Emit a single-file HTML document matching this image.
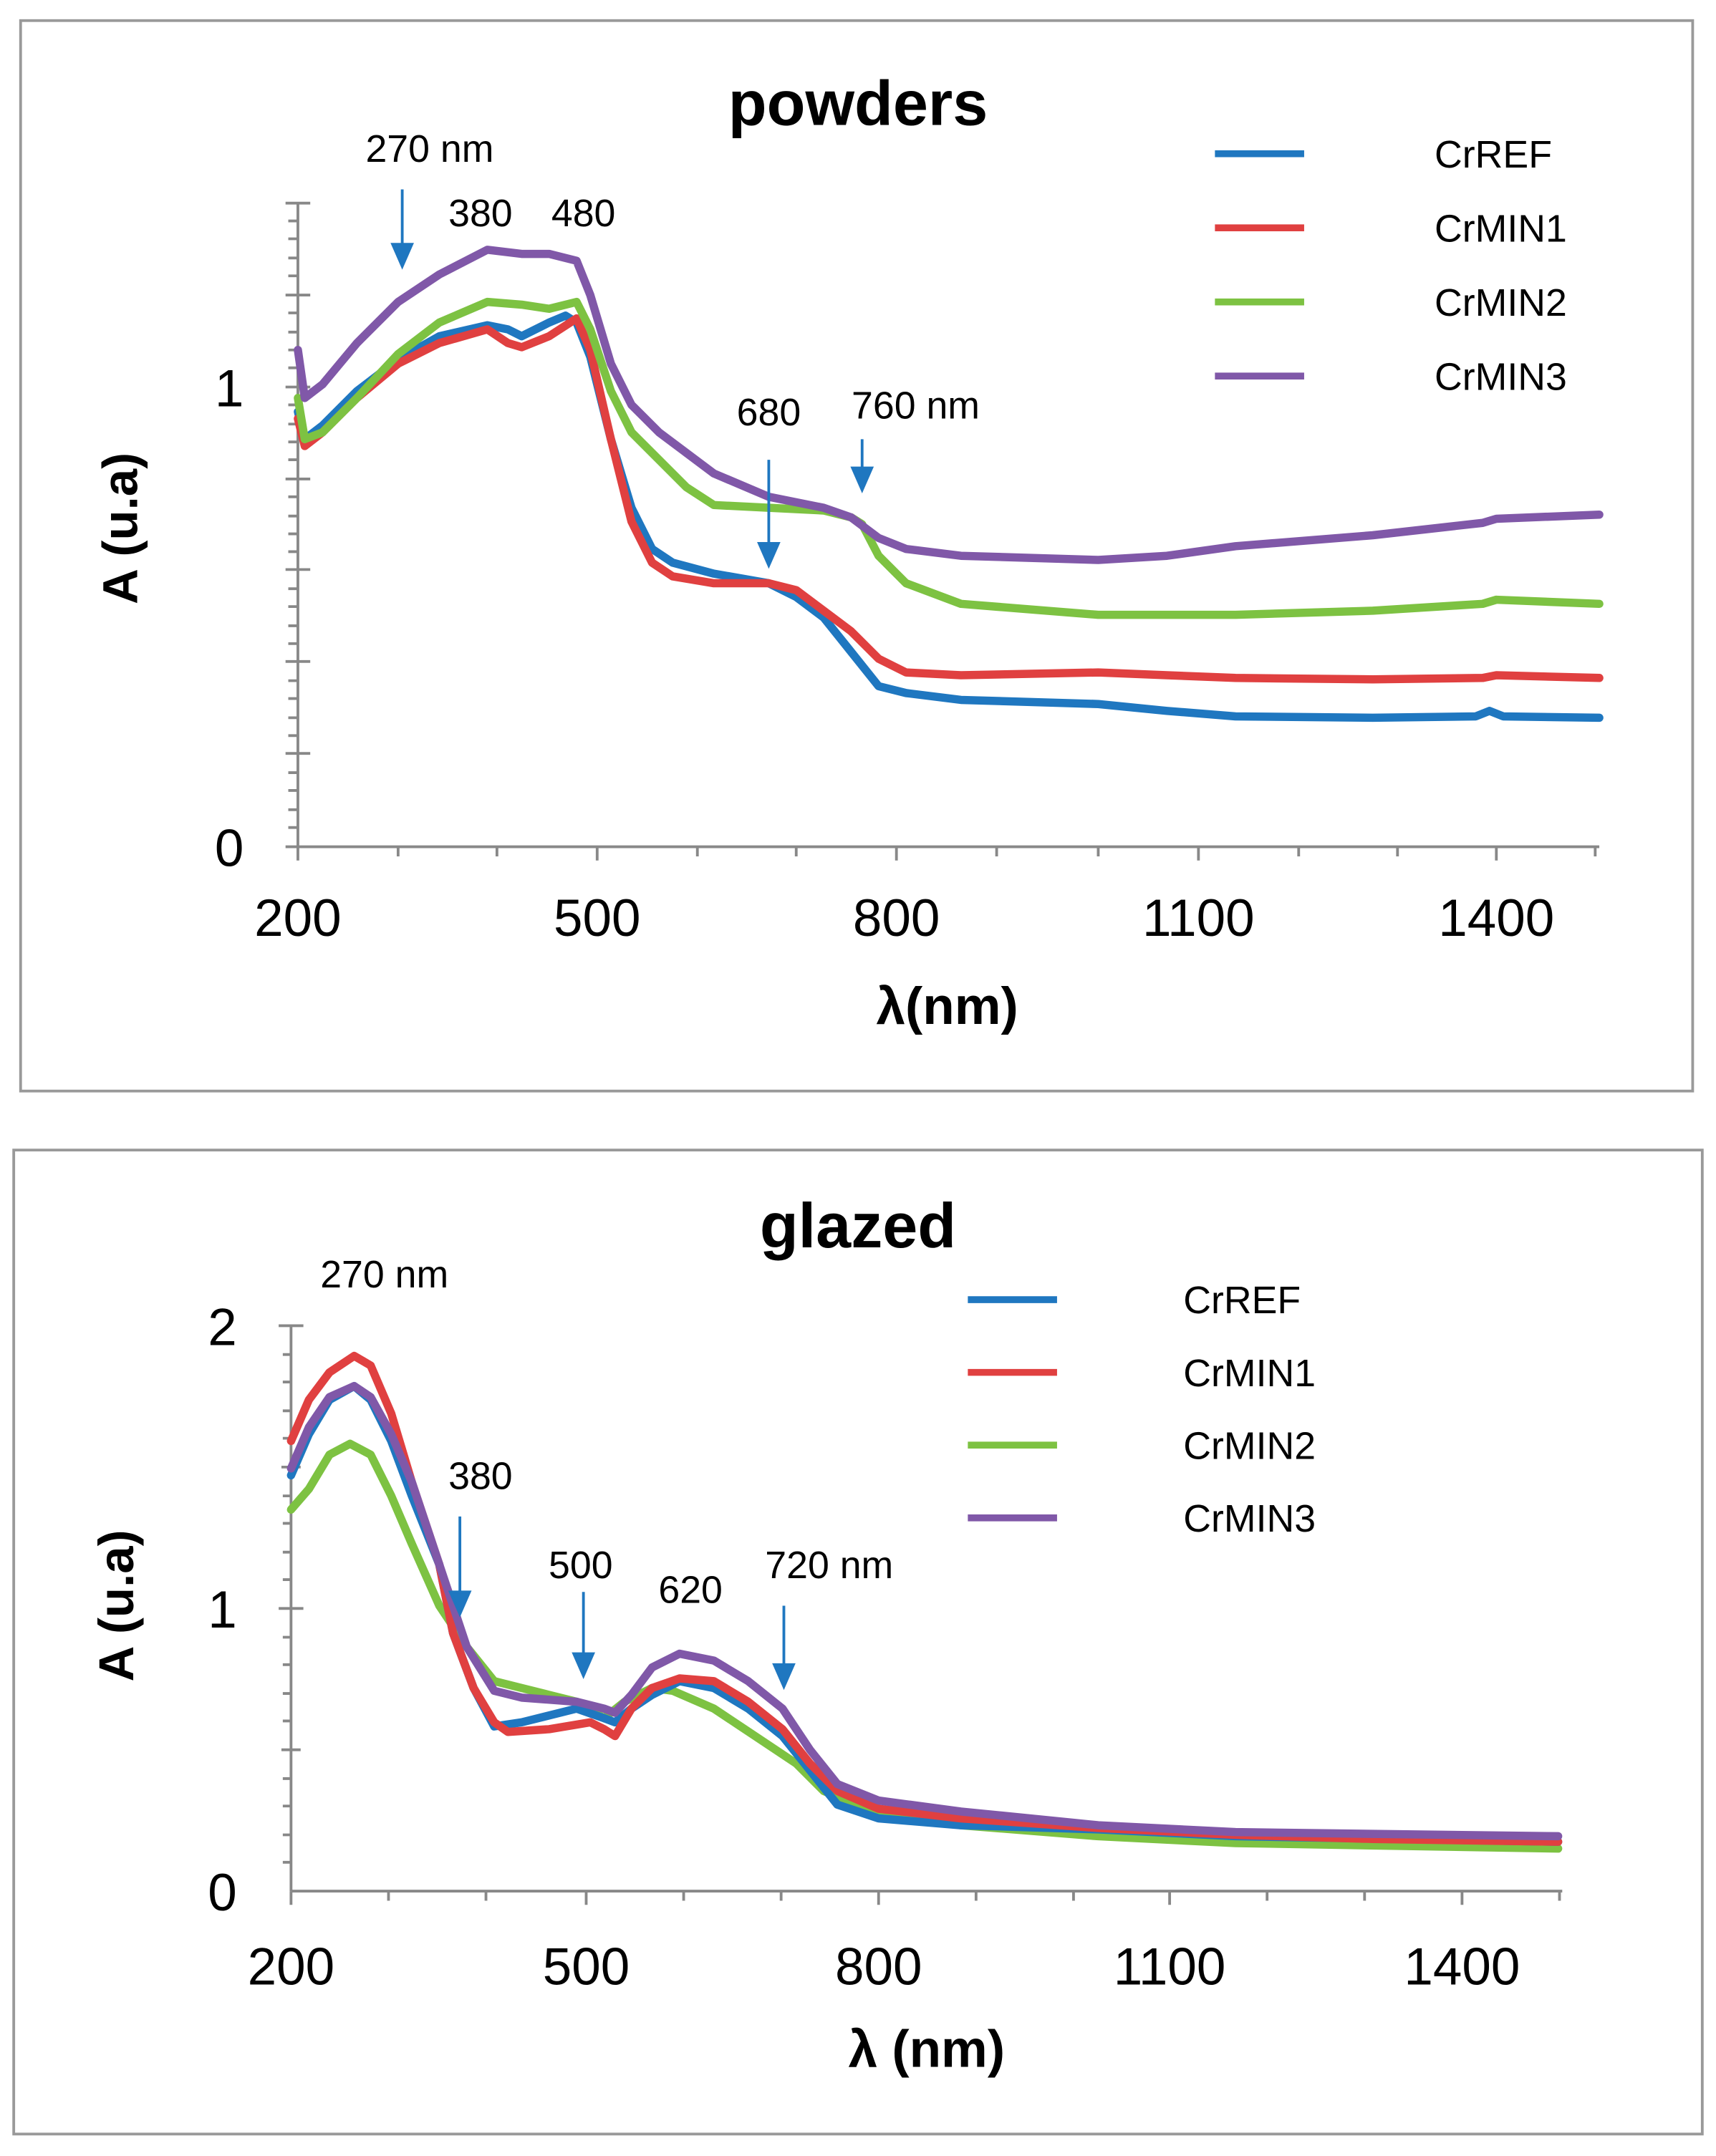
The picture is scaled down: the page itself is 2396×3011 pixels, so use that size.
<!DOCTYPE html>
<html><head><meta charset="utf-8"><style>html,body{margin:0;padding:0;background:#fff}svg{display:block}text{font-family:"Liberation Sans",sans-serif}</style></head><body>
<svg width="2396" height="3011" viewBox="0 0 1250 1571" preserveAspectRatio="none" xmlns="http://www.w3.org/2000/svg">
<rect x="0" y="0" width="1250" height="1571" fill="#fff"/>
<!-- TOP PANEL -->
<rect x="15" y="15" width="1218" height="780" fill="none" stroke="#999" stroke-width="2"/>
<text x="625" y="91" font-size="46" font-weight="bold" text-anchor="middle">powders</text>
<g stroke="#888" stroke-width="2" fill="none">
<line x1="217" y1="148" x2="217" y2="617"/>
<line x1="217" y1="617" x2="1165" y2="617"/>
<path d="M208 148h18M208 215h18M208 282h18M208 349h18M208 415h18M208 482h18M208 549h18M208 617h9"/>
<path d="M210 161h7M210 174h7M210 188h7M210 201h7M210 228h7M210 242h7M210 255h7M210 268h7M210 295h7M210 309h7M210 322h7M210 335h7M210 362h7M210 376h7M210 389h7M210 402h7M210 429h7M210 442h7M210 456h7M210 469h7M210 496h7M210 509h7M210 523h7M210 536h7M210 563h7M210 576h7M210 590h7M210 603h7"/>
<path d="M217 617v10M290 617v7M362 617v7M435 617v10M508 617v7M580 617v7M653 617v10M726 617v7M800 617v7M873 617v10M946 617v7M1018 617v7M1090 617v10M1162 617v7"/>
</g>
<g font-size="38" text-anchor="middle">
<text x="217" y="682">200</text><text x="435" y="682">500</text><text x="653" y="682">800</text><text x="873" y="682">1100</text><text x="1090" y="682">1400</text>
<text x="167" y="296">1</text><text x="167" y="631">0</text>
</g>
<text x="690" y="746" font-size="38" font-weight="bold" text-anchor="middle">λ(nm)</text>
<text transform="translate(100,385) rotate(-90)" font-size="36" font-weight="bold" text-anchor="middle">A (u.a)</text>
<g fill="none" stroke-width="6" stroke-linejoin="round" stroke-linecap="round">
<polyline stroke="#1f77c0" points="217,300 222,320 235,310 260,285 290,262 320,245 355,237 370,240 380,245 400,235 412,230 420,235 430,260 445,320 460,370 475,400 490,410 520,418 560,425 580,435 600,450 620,475 640,500 660,505 700,510 800,513 850,518 900,522 1000,523 1075,522 1085,518 1095,522 1165,523"/>
<polyline stroke="#e04040" points="217,305 222,325 235,315 260,290 290,265 320,250 355,240 370,250 380,253 400,245 420,232 430,255 445,320 460,380 475,410 490,420 520,425 560,425 580,430 600,445 620,460 640,480 660,490 700,492 800,490 850,492 900,494 1000,495 1080,494 1090,492 1165,494"/>
<polyline stroke="#7dc242" points="217,290 222,320 235,315 260,290 290,258 320,235 355,220 380,222 400,225 420,220 430,240 445,285 460,315 480,335 500,355 520,368 560,370 600,372 620,377 628,382 640,405 660,425 700,440 800,448 900,448 1000,445 1080,440 1090,437 1165,440"/>
<polyline stroke="#8058a8" points="217,255 222,290 235,280 260,250 290,220 320,200 355,182 380,185 400,185 420,190 430,215 445,265 460,295 480,315 500,330 520,345 560,362 600,370 620,377 640,392 660,400 700,405 800,408 850,405 900,398 1000,390 1080,381 1090,378 1165,375"/>
</g>
<g font-size="28" text-anchor="middle">
<text x="313" y="118">270 nm</text><text x="350" y="165">380</text><text x="425" y="165">480</text>
<text x="560" y="310">680</text><text x="667" y="305">760 nm</text>
</g>
<g stroke="#1f77c0" stroke-width="2" fill="#1f77c0">
<line x1="293" y1="138" x2="293" y2="180"/><path d="M286 178h14l-7 16z"/>
<line x1="560" y1="335" x2="560" y2="398"/><path d="M553 396h14l-7 16z"/>
<line x1="628" y1="320" x2="628" y2="343"/><path d="M621 341h14l-7 16z"/>
</g>
<g stroke-width="5"><line x1="885" y1="112" x2="950" y2="112" stroke="#1f77c0"/><line x1="885" y1="166" x2="950" y2="166" stroke="#e04040"/><line x1="885" y1="220" x2="950" y2="220" stroke="#7dc242"/><line x1="885" y1="274" x2="950" y2="274" stroke="#8058a8"/></g>
<g font-size="28"><text x="1045" y="122">CrREF</text><text x="1045" y="176">CrMIN1</text><text x="1045" y="230">CrMIN2</text><text x="1045" y="284">CrMIN3</text></g>

<!-- BOTTOM PANEL -->
<rect x="10" y="838" width="1230" height="717" fill="none" stroke="#999" stroke-width="2"/>
<text x="625" y="909" font-size="46" font-weight="bold" text-anchor="middle">glazed</text>
<g stroke="#888" stroke-width="2" fill="none">
<line x1="212" y1="966" x2="212" y2="1378"/>
<line x1="212" y1="1378" x2="1138" y2="1378"/>
<path d="M203 966h18M203 1172h18M205 1069h14M205 1275h14"/>
<path d="M206 987h6M206 1007h6M206 1028h6M206 1048h6M206 1090h6M206 1110h6M206 1131h6M206 1151h6M206 1193h6M206 1213h6M206 1234h6M206 1254h6M206 1296h6M206 1316h6M206 1337h6M206 1357h6"/>
<path d="M212 1378v10M283 1378v7M354 1378v7M427 1378v10M498 1378v7M569 1378v7M640 1378v10M711 1378v7M782 1378v7M852 1378v10M923 1378v7M994 1378v7M1065 1378v10M1136 1378v7"/>
</g>
<g font-size="38" text-anchor="middle">
<text x="212" y="1446">200</text><text x="427" y="1446">500</text><text x="640" y="1446">800</text><text x="852" y="1446">1100</text><text x="1065" y="1446">1400</text>
<text x="162" y="980">2</text><text x="162" y="1186">1</text><text x="162" y="1392">0</text>
</g>
<text x="675" y="1506" font-size="38" font-weight="bold" text-anchor="middle">λ (nm)</text>
<text transform="translate(97,1170) rotate(-90)" font-size="36" font-weight="bold" text-anchor="middle">A (u.a)</text>
<g fill="none" stroke-width="6" stroke-linejoin="round" stroke-linecap="round">
<polyline stroke="#7dc242" points="212,1100 225,1085 240,1060 255,1052 270,1060 285,1090 300,1125 320,1170 340,1200 360,1225 380,1230 400,1235 420,1240 440,1252 455,1240 475,1230 490,1232 520,1245 550,1265 580,1285 600,1305 640,1322 700,1330 800,1338 900,1343 1135,1347"/>
<polyline stroke="#1f77c0" points="212,1075 225,1045 240,1020 258,1010 270,1020 285,1050 300,1090 320,1140 330,1190 345,1230 360,1258 380,1255 420,1245 440,1252 448,1255 460,1245 475,1235 495,1225 520,1230 545,1245 570,1265 590,1290 610,1315 640,1325 700,1330 800,1333 900,1338 1135,1342"/>
<polyline stroke="#e04040" points="212,1050 225,1020 240,1000 258,988 270,995 285,1030 300,1080 320,1140 330,1190 345,1230 360,1255 370,1262 400,1260 430,1255 440,1260 448,1265 460,1245 475,1230 495,1223 520,1225 545,1240 570,1260 590,1285 610,1305 640,1318 700,1325 800,1332 900,1337 1000,1340 1135,1342"/>
<polyline stroke="#8058a8" points="212,1070 225,1040 240,1018 258,1010 270,1018 285,1045 300,1080 320,1140 340,1200 360,1232 380,1237 420,1240 440,1245 448,1248 460,1235 475,1215 495,1205 520,1210 545,1225 570,1245 590,1275 610,1300 640,1312 700,1320 800,1330 900,1335 1135,1338"/>
</g>
<g font-size="28" text-anchor="middle">
<text x="280" y="938">270 nm</text><text x="350" y="1085">380</text><text x="423" y="1150">500</text><text x="503" y="1168">620</text><text x="604" y="1150">720 nm</text>
</g>
<g stroke="#1f77c0" stroke-width="2" fill="#1f77c0">
<line x1="335" y1="1105" x2="335" y2="1162"/><path d="M328 1160h14l-7 16z"/>
<line x1="425" y1="1160" x2="425" y2="1207"/><path d="M418 1205h14l-7 16z"/>
<line x1="571" y1="1170" x2="571" y2="1215"/><path d="M564 1213h14l-7 16z"/>
</g>
<g stroke-width="5"><line x1="705" y1="947" x2="770" y2="947" stroke="#1f77c0"/><line x1="705" y1="1000" x2="770" y2="1000" stroke="#e04040"/><line x1="705" y1="1053" x2="770" y2="1053" stroke="#7dc242"/><line x1="705" y1="1106" x2="770" y2="1106" stroke="#8058a8"/></g>
<g font-size="28"><text x="862" y="957">CrREF</text><text x="862" y="1010">CrMIN1</text><text x="862" y="1063">CrMIN2</text><text x="862" y="1116">CrMIN3</text></g>
</svg>
</body></html>
